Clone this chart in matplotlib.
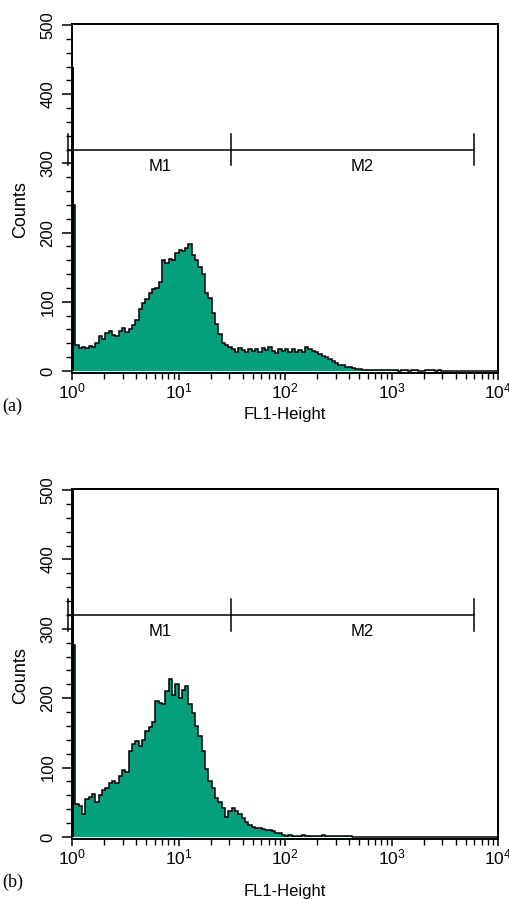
import numpy as np
import matplotlib
matplotlib.use("Agg")
import matplotlib.pyplot as plt
from matplotlib.ticker import LogLocator, MultipleLocator, FixedLocator, FixedFormatter

plt.rcParams['font.family'] = ['Liberation Sans', 'DejaVu Sans']
plt.rcParams['mathtext.fontset'] = 'custom'
plt.rcParams['mathtext.rm'] = 'Liberation Sans'
plt.rcParams['mathtext.it'] = 'Liberation Sans:italic'
plt.rcParams['mathtext.bf'] = 'Liberation Sans:bold'

# ---------------- data ----------------
bins_per_decade = 32
n_decades = 4

# panel (a) counts per bin (1/32 decade bins starting at 10^0)
counts_a = [
    240, 38, 33, 35, 33, 36, 35, 40, 50, 46, 55, 57, 52, 50, 58, 62,
    56, 60, 66, 74, 90, 98, 104, 112, 118, 120, 128, 160, 156, 162, 160, 170,
    175, 174, 178, 184, 168, 160, 150, 140, 112, 106, 84, 68, 54, 40, 37, 34,
    32, 28, 33, 30, 27, 32, 29, 31, 28, 33, 30, 34, 29, 26, 32, 29,
    31, 27, 32, 28, 30, 27, 34, 32, 29, 27, 25, 22, 20, 17, 14, 11,
    9, 8, 6, 5, 4, 3, 3, 2, 2, 1, 2, 2, 1, 1, 2, 1,
    1, 1, 0, 1, 1, 0, 1, 1, 0, 0, 1, 2, 1, 0, 1, 0,
    0, 0, 0, 0, 0, 0, 0, 0, 0, 0, 0, 0, 0, 0, 0, 0,
]
first_channel_a = 440

# panel (b)
counts_b = [
    277, 48, 44, 33, 55, 58, 62, 50, 60, 68, 71, 78, 81, 77, 88, 97,
    93, 124, 134, 138, 131, 140, 153, 158, 165, 196, 193, 191, 210, 227, 205, 220,
    200, 212, 217, 191, 178, 160, 145, 124, 98, 80, 70, 56, 50, 41, 28, 38,
    42, 37, 33, 27, 21, 17, 15, 13, 13, 11, 10, 10, 8, 6, 5, 3,
    2, 3, 2, 1, 2, 3, 2, 1, 2, 1, 2, 3, 1, 2, 1, 1,
    2, 1, 1, 2, 0, 0, 0, 0, 0, 0, 0, 0, 0, 0, 0, 0,
    0, 0, 0, 0, 0, 0, 0, 0, 0, 0, 0, 0, 0, 0, 0, 0,
    0, 0, 0, 0, 0, 0, 0, 0, 0, 0, 0, 0, 0, 0, 0, 0,
]
first_channel_b = 520

marker_level = 320
marker_half_tick = 23
m1_range = (0.91, 31.0)
m2_range = (31.0, 5900.0)
marker_labels = ["M1", "M2"]
marker_label_x = [6.7, 530.0]
marker_label_y = 296

panel_tags = ["(a)", "(b)"]
xlabel_text = "FL1-Height"
ylabel_text = "Counts"
ytick_values = [0, 100, 200, 300, 400, 500]
xtick_values = [1, 10, 100, 1000, 10000]
xtick_labels = [r"$10^{0}$", r"$10^{1}$", r"$10^{2}$", r"$10^{3}$", r"$10^{4}$"]

green = "#04A07B"

W, H = 509, 899
fig = plt.figure(figsize=(W / 100, H / 100), dpi=100)

def px_axes(left, right, top, bottom):
    return fig.add_axes([left / W, 1 - bottom / H, (right - left) / W, (bottom - top) / H])

ax_a = px_axes(72, 498, 24, 373)
ax_b = px_axes(72, 498, 489, 839)

edges = 10 ** (np.arange(bins_per_decade * n_decades + 1) / bins_per_decade)

panels = [
    (ax_a, counts_a, first_channel_a, -0.098),
    (ax_b, counts_b, first_channel_b, -0.128),
]

for idx, (ax, counts, first_ch, xl_y) in enumerate(panels):
    vals = np.array(counts, dtype=float)
    ax.stairs(vals, edges, fill=True, color=green, lw=0, zorder=2)
    ax.stairs(vals, edges, color="black", lw=1.1, zorder=3)
    ax.vlines(edges[0] * 1.022, 0, first_ch, color="black", lw=1.4, zorder=4)

    ax.set_xscale("log")
    ax.set_xlim(edges[0], edges[-1])
    ax.set_ylim(-3, 501.5)

    # markers
    for (lo, hi) in [m1_range, m2_range]:
        ax.plot([lo, hi], [marker_level, marker_level], color="black", lw=1.1,
                clip_on=False, zorder=5)
    for xv in [m1_range[0], m1_range[1], m2_range[1]]:
        ax.plot([xv, xv], [marker_level - marker_half_tick, marker_level + marker_half_tick],
                color="black", lw=1.1, clip_on=False, zorder=5)
    for lab, lx in zip(marker_labels, marker_label_x):
        ax.text(lx, marker_label_y, lab, ha="center", va="center", fontsize=12)

    # ticks
    ax.yaxis.set_major_locator(FixedLocator(ytick_values))
    ax.yaxis.set_minor_locator(MultipleLocator(20))
    ax.set_yticklabels([str(v) for v in ytick_values])
    ax.xaxis.set_major_locator(FixedLocator(xtick_values))
    ax.xaxis.set_major_formatter(FixedFormatter(xtick_labels))
    ax.xaxis.set_minor_locator(LogLocator(base=10, subs=np.arange(2, 10), numticks=20))
    ax.tick_params(axis="y", which="major", direction="out", length=7, width=1.1,
                   labelsize=12, pad=5, labelrotation=90)
    ax.tick_params(axis="y", which="minor", direction="out", length=4, width=1.0)
    ax.tick_params(axis="x", which="major", direction="out", length=5, width=1.1,
                   labelsize=12.5, pad=1)
    ax.tick_params(axis="x", which="minor", direction="out", length=4, width=1.0)
    for lbl in ax.get_yticklabels():
        lbl.set_va("center")

    for sp in ax.spines.values():
        sp.set_linewidth(1.4)

    ax.set_ylabel(ylabel_text, fontsize=13)
    ax.yaxis.set_label_coords(-0.100, 0.467)
    ax.set_xlabel(xlabel_text, fontsize=12)
    ax.xaxis.set_label_coords(0.5, xl_y)

fig.text(2 / W, 1 - 406 / H, panel_tags[0], family="Liberation Serif", fontsize=13,
         ha="left", va="center")
fig.text(2 / W, 1 - 882 / H, panel_tags[1], family="Liberation Serif", fontsize=13,
         ha="left", va="center")

fig.savefig("out.png", dpi=100)
